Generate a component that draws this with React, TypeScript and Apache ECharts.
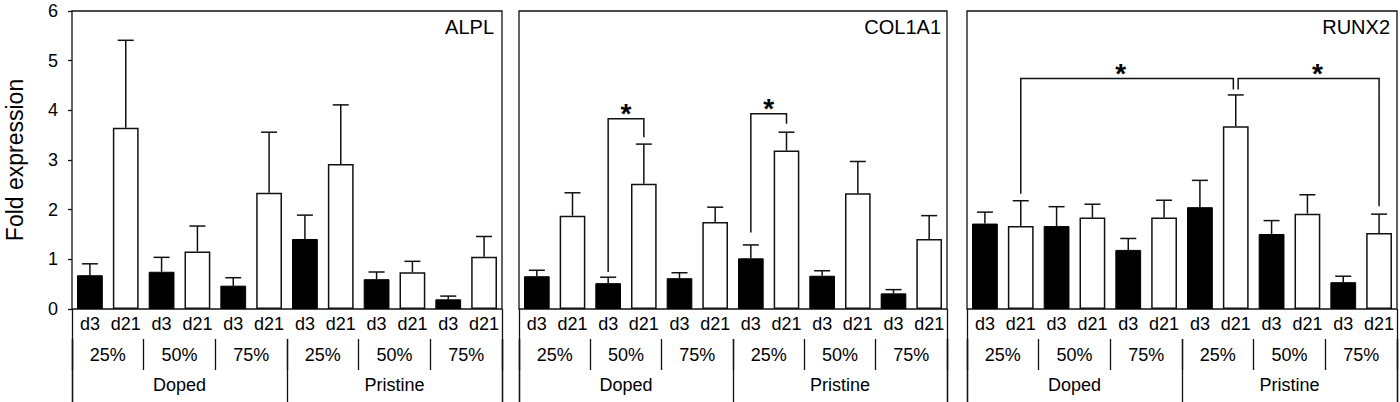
import React, { useEffect, useRef } from 'react';
import * as echarts from 'echarts';

const days = ['d3', 'd21'];
const concentrations = ['25%', '50%', '75%'];
const groups = ['Doped', 'Pristine'];
const genes = ['ALPL', 'COL1A1', 'RUNX2'];
const yTickMax = 6;

// Bar order: Doped 25% d3, d21, 50% d3, d21, 75% d3, d21, then Pristine in the same order
const alplMean = [0.68, 3.65, 0.75, 1.16, 0.47, 2.34, 1.41, 2.92, 0.6, 0.74, 0.195, 1.05];
const alplUpper = [0.91, 5.41, 1.04, 1.67, 0.63, 3.56, 1.89, 4.11, 0.745, 0.96, 0.26, 1.46];
const col1a1Mean = [0.66, 1.88, 0.52, 2.52, 0.62, 1.75, 1.02, 3.19, 0.67, 2.33, 0.315, 1.41];
const col1a1Upper = [0.78, 2.34, 0.64, 3.32, 0.73, 2.05, 1.29, 3.56, 0.77, 2.97, 0.39, 1.88];
const runx2Mean = [1.72, 1.67, 1.67, 1.84, 1.19, 1.84, 2.05, 3.68, 1.51, 1.92, 0.54, 1.53];
const runx2Upper = [1.95, 2.18, 2.06, 2.11, 1.42, 2.19, 2.59, 4.31, 1.78, 2.3, 0.66, 1.91];

// Significance brackets: [left bar, right bar, bracket top, left leg end, right leg end, star x]
const alplBrackets: number[][] = [];
const col1a1Brackets = [
  [2, 3, 3.83, 0.745, 3.46, 2.5],
  [6, 7, 3.93, 1.54, 3.73, 6.5],
];
const runx2Brackets = [
  [1, 7, 4.64, 2.32, 4.42, 3.79],
  [7, 11, 4.64, 4.42, 2.07, 9.28],
];

const means = [alplMean, col1a1Mean, runx2Mean];
const uppers = [alplUpper, col1a1Upper, runx2Upper];
const brackets = [alplBrackets, col1a1Brackets, runx2Brackets];

const FONT = '"Liberation Sans", Arial, sans-serif';
const INK = '#111';

const panels = [
  { left: 72, width: 430, titleRight: 906 },
  { left: 519, width: 428, titleRight: 459 },
  { left: 967, width: 430, titleRight: 10 },
];
const GRID_TOP = 11;
const GRID_HEIGHT = 298;

const dayLabels: string[] = [];
const concLabels: string[] = [];
groups.forEach(() => {
  concentrations.forEach((c) => {
    concLabels.push(c);
    days.forEach((d) => dayLabels.push(d));
  });
});

function buildOption() {
  const grid: any[] = [];
  const xAxis: any[] = [];
  const yAxis: any[] = [];
  const series: any[] = [];
  const title: any[] = [];

  panels.forEach((p, pi) => {
    grid.push({
      left: p.left,
      top: GRID_TOP,
      width: p.width,
      height: GRID_HEIGHT,
      show: true,
      borderColor: INK,
      borderWidth: 1.3,
      backgroundColor: 'transparent',
    });
    title.push({
      text: genes[pi],
      right: p.titleRight,
      top: 17,
      padding: 0,
      textStyle: { fontSize: 20, fontWeight: 'normal', color: '#000', fontFamily: FONT },
    });
    const labelStyle = { fontSize: 18, color: '#000', fontFamily: FONT };
    xAxis.push({
      gridIndex: pi,
      type: 'category',
      data: dayLabels,
      position: 'bottom',
      axisLine: { show: false },
      axisTick: { show: false },
      axisLabel: { ...labelStyle, interval: 0, margin: 15, verticalAlign: 'middle' },
    });
    xAxis.push({
      gridIndex: pi,
      type: 'category',
      data: concLabels,
      position: 'bottom',
      offset: 30,
      axisLine: { show: false },
      axisTick: { show: true, interval: 0, length: 31, lineStyle: { color: INK, width: 1.3 } },
      axisLabel: { ...labelStyle, interval: 0, margin: 16, verticalAlign: 'middle' },
    });
    xAxis.push({
      gridIndex: pi,
      type: 'category',
      data: groups,
      position: 'bottom',
      offset: 30,
      axisLine: { show: false },
      axisTick: { show: true, interval: 0, length: 63, lineStyle: { color: INK, width: 1.3 } },
      axisLabel: { ...labelStyle, interval: 0, margin: 46, verticalAlign: 'middle' },
    });
    xAxis.push({
      gridIndex: pi,
      type: 'category',
      data: [''],
      position: 'bottom',
      offset: 0,
      axisLine: { show: false },
      axisTick: { show: true, interval: 0, length: 93, lineStyle: { color: INK, width: 1.3 } },
      axisLabel: { show: false },
    });
    yAxis.push({
      gridIndex: pi,
      type: 'value',
      min: 0,
      max: yTickMax,
      interval: 1,
      splitLine: { show: false },
      axisLine: { show: false },
      axisTick: { show: pi === 0, length: 4, lineStyle: { color: INK, width: 1.3 } },
      axisLabel: { show: pi === 0, fontSize: 18, color: '#000', fontFamily: FONT, margin: 14 },
      name: pi === 0 ? 'Fold expression' : '',
      nameLocation: 'middle',
      nameGap: 46,
      nameTextStyle: { fontSize: 23, color: '#000', fontFamily: FONT },
    });

    series.push({
      type: 'bar',
      xAxisIndex: pi * 4,
      yAxisIndex: pi,
      barWidth: '72%',
      data: means[pi].map((v, i) => ({
        value: v,
        itemStyle:
          i % 2 === 0
            ? { color: '#000', borderColor: '#000', borderWidth: 1 }
            : { color: '#fff', borderColor: INK, borderWidth: 1.5 },
      })),
    });

    series.push({
      type: 'custom',
      xAxisIndex: pi * 4,
      yAxisIndex: pi,
      data: means[pi].map((v, i) => [i, v, uppers[pi][i]]),
      encode: { x: 0, y: [1, 2] },
      renderItem: (params: any, api: any) => {
        const x = api.value(0);
        const p0 = api.coord([x, api.value(1)]);
        const p1 = api.coord([x, api.value(2)]);
        const st = { stroke: INK, lineWidth: 1.5 };
        return {
          type: 'group',
          children: [
            { type: 'line', shape: { x1: p0[0], y1: p0[1], x2: p1[0], y2: p1[1] }, style: st },
            { type: 'line', shape: { x1: p1[0] - 8, y1: p1[1], x2: p1[0] + 8, y2: p1[1] }, style: st },
          ],
        };
      },
    });

    const bl = brackets[pi];
    if (bl.length) {
      series.push({
        type: 'custom',
        xAxisIndex: pi * 4,
        yAxisIndex: pi,
        data: bl.map((b) => b.slice()),
        encode: { x: [0, 1], y: [2, 3, 4] },
        renderItem: (params: any, api: any) => {
          const b = bl[params.dataIndex];
          const sharedLeft = bl.some((o) => o !== b && o[1] === b[0]);
          const sharedRight = bl.some((o) => o !== b && o[0] === b[1]);
          const tl = api.coord([b[0], b[2]]);
          const tr = api.coord([b[1], b[2]]);
          const le = api.coord([b[0], b[3]]);
          const re = api.coord([b[1], b[4]]);
          // fractional category position for the star
          const f0 = Math.floor(b[5]);
          const c0 = api.coord([f0, b[2]]);
          const c1 = api.coord([f0 + 1, b[2]]);
          const starX = c0[0] + (b[5] - f0) * (c1[0] - c0[0]);
          const lx = tl[0] + (sharedLeft ? 2.4 : 0);
          const rx = tr[0] - (sharedRight ? 2.4 : 0);
          return {
            type: 'group',
            children: [
              {
                type: 'polyline',
                shape: { points: [[lx, le[1]], [lx, tl[1]], [rx, tr[1]], [rx, re[1]]] },
                style: { stroke: INK, lineWidth: 1.5, fill: 'none' },
              },
              {
                type: 'text',
                x: starX,
                y: tl[1] - 5,
                style: {
                  text: '*',
                  align: 'center',
                  verticalAlign: 'middle',
                  fontSize: 28,
                  fontWeight: 'bold',
                  fontFamily: FONT,
                  fill: '#000',
                },
              },
            ],
          };
        },
      });
    }
  });

  return { animation: false, backgroundColor: '#fff', title, grid, xAxis, yAxis, series };
}

export default function App() {
  const ref = useRef<HTMLDivElement>(null);
  useEffect(() => {
    document.body.style.margin = '0';
    const chart = echarts.init(ref.current!, null, { renderer: 'svg' });
    chart.setOption(buildOption() as any);
    return () => chart.dispose();
  }, []);
  return <div ref={ref} style={{ width: 1400, height: 402 }} />;
}
